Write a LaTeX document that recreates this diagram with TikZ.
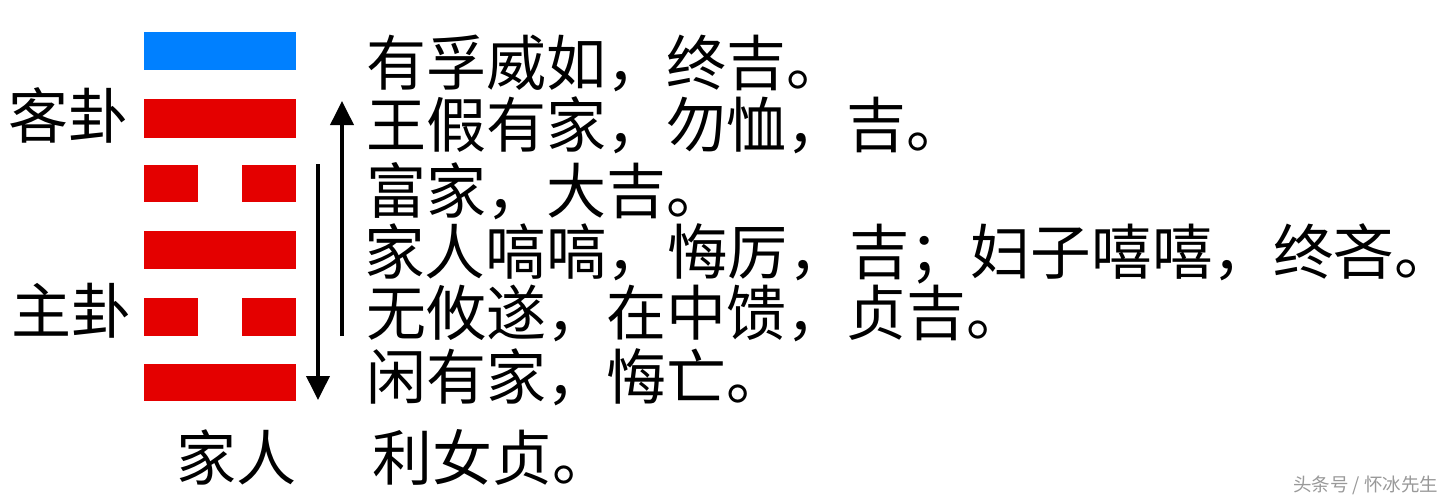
\documentclass[tikz,border=0pt]{standalone}
\usepackage{fontspec}
\setmainfont{Noto Sans CJK SC}
\usetikzlibrary{arrows.meta}
\definecolor{yaoblue}{RGB}{0,128,255}
\definecolor{yaored}{RGB}{228,0,0}
\tikzset{
  yao/.style={fill=yaored,draw=none},
  topyao/.style={fill=yaoblue,draw=none},
  txt/.style={anchor=base west,inner sep=0pt,font=\fontsize{60pt}{60pt}\selectfont},
  flow/.style={line width=3.8pt,-{Triangle[width=23pt,length=24pt]}},
  wmtext/.style={anchor=base west,inner sep=0pt,font=\fontsize{18.5pt}{18.5pt}\selectfont,text=black!40}
}
\begin{document}
\begin{tikzpicture}[x=1pt,y=-1pt]
\useasboundingbox[fill=white] (0,0) rectangle (1456,501);
% hexagram lines
\fill[topyao] (144,32) rectangle (296,70);
\fill[yao] (144,99) rectangle (296,138);
\fill[yao] (144,165) rectangle (198,202);
\fill[yao] (242,165) rectangle (296,202);
\fill[yao] (144,231) rectangle (296,269);
\fill[yao] (144,298) rectangle (198,336);
\fill[yao] (242,298) rectangle (296,336);
\fill[yao] (144,364) rectangle (296,401);
% arrows
\coordinate (upS) at (342,336);
\coordinate (upE) at (342,101);
\coordinate (dnS) at (318,164);
\coordinate (dnE) at (318,400);
\draw[flow] (upS) -- (upE);
\draw[flow] (dnS) -- (dnE);
% labels
\node[txt] (ke) at (8,138) {客卦};
\node[txt] (zhu) at (11,333) {主卦};
\node[txt] (jr) at (176,480) {家人};
% line texts
\node[txt] (l1) at (366,85) {有孚威如，终吉。};
\node[txt] (l2) at (366,147) {王假有家，勿恤，吉。};
\node[txt] (l3) at (366,213) {富家，大吉。};
\node[txt,xscale=1.01,transform shape] (l4) at (364,274) {家人嗃嗃，悔厉，吉；妇子嘻嘻，终吝。};
\node[txt] (l5) at (366,335) {无攸遂，在中馈，贞吉。};
\node[txt] (l6) at (366,399) {闲有家，悔亡。};
\node[txt] (l7) at (372,480) {利女贞。};
\node[wmtext] (wm) at (1293,491) {头条号 / 怀冰先生};
\end{tikzpicture}
\end{document}
